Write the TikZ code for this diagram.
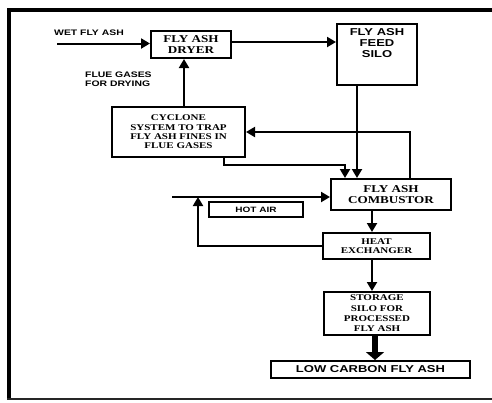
\documentclass[tikz,border=0pt]{standalone}
\usepackage{fontspec}
\setmainfont{Liberation Serif}[FakeStretch=1.25]
\newfontfamily\hvfont{Liberation Sans}[FakeStretch=1.3]
\usetikzlibrary{arrows.meta}
\tikzset{->/.style = {-{Triangle[length=9pt,width=10pt]}, line width=2pt},
         bigflow/.style = {-{Triangle[length=8pt,width=18pt]}, line width=5.5pt},
         box/.style = {draw, line width=2pt, align=center, inner sep=2pt,
                       font=\bfseries\fontsize{8.8}{9.3}\selectfont},
         bigbox/.style = {box, font=\bfseries\fontsize{10.5}{10.8}\selectfont},
         sansbox/.style = {box, font=\hvfont\bfseries\fontsize{10}{11}\selectfont},
         tag/.style = {font=\hvfont\bfseries\fontsize{8}{9}\selectfont, align=left, inner sep=0pt}}

\begin{document}
\begin{tikzpicture}[x=1pt, y=-1pt]
        \useasboundingbox (0,0) rectangle (492,402);
        \draw[line width=4pt] (492,9.5) -- (9,9.5) -- (9,399);
        \draw[line width=2pt, black!85] (7,398.5) -- (492,398.5);
        \node[bigbox, minimum width=80, minimum height=27] (dryer) at (191,44.5) {FLY ASH\\DRYER};
        \node[sansbox, minimum width=80, minimum height=61, anchor=north, inner ysep=5pt, text depth=22pt] (silo) at (377,23) {FLY ASH\\FEED\\SILO};
        \node[box, minimum width=133, minimum height=50] (cyc) at (178.5,132) {CYCLONE\\SYSTEM TO TRAP\\FLY ASH FINES IN\\FLUE GASES};
        \node[bigbox, minimum width=120, minimum height=31] (comb) at (391,194.5) {FLY ASH\\COMBUSTOR};
        \node[sansbox, font=\hvfont\bfseries\fontsize{7.7}{8}\selectfont, minimum width=94, minimum height=15, inner sep=0pt] (hot) at (256,209.5) {HOT AIR};
        \node[box, minimum width=107, minimum height=26] (hx) at (376.5,246) {HEAT\\EXCHANGER};
        \node[box, font=\bfseries\fontsize{8.8}{10.3}\selectfont, minimum width=106, minimum height=43] (store) at (377,313.5) {STORAGE\\SILO FOR\\PROCESSED\\FLY ASH};
        \node[sansbox, minimum width=199, minimum height=17, inner sep=0pt] (low) at (370.5,369.5) {LOW CARBON FLY ASH};
        \node[tag] (wet) at (89,33) {WET FLY ASH};
        \node[tag, anchor=west] (flue) at (85,79) {FLUE GASES\\FOR DRYING};
        \coordinate (wetin) at (57,43.5);
        \coordinate (airin) at (172,197);
        \coordinate (airjoin) at (198,197);
        \draw[->] (wetin) -- (wetin -| dryer.west);
        \draw[->] (dryer.east |- 0,42) -- (silo.west |- 0,42);
        \draw[->] (cyc.north -| 184,0) -- (dryer.south -| 184,0);
        \draw[->] (silo.south -| 357,0) -- (comb.north -| 357,0);
        \draw[->] (cyc.south -| 224,0) |- (345,165) -- (comb.north -| 345,0);
        \draw[->] (comb.north -| 410,0) |- (cyc.east);
        \draw[->] (airin) -- (airin -| comb.west);
        \draw[->] (hx.west) -| (airjoin);
        \draw[->] (comb.south -| 372,0) -- (hx.north -| 372,0);
        \draw[->] (hx.south -| 372,0) -- (store.north -| 372,0);
        \draw[bigflow] (store.south -| 375,0) -- (low.north -| 375,0);
    \end{tikzpicture}
\end{document}
